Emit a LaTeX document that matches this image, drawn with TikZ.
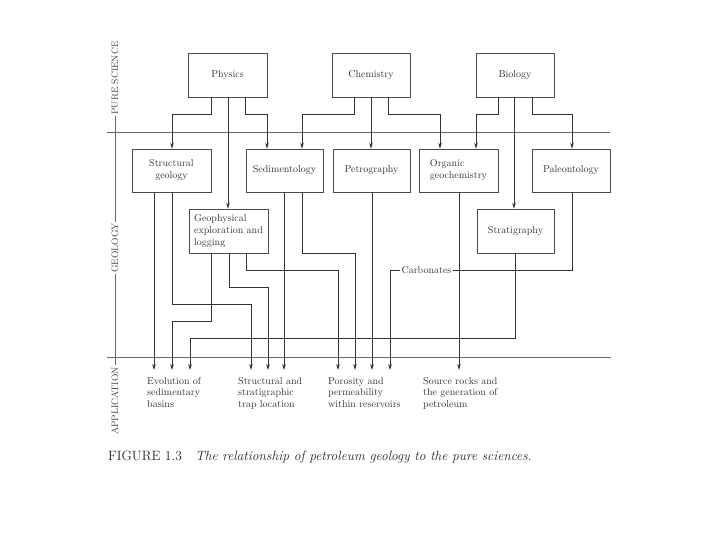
\documentclass[tikz,border=0pt]{standalone}
\usetikzlibrary{arrows.meta}
\begin{document}
\begin{tikzpicture}[x=1pt,y=-1pt,
  box/.style={draw=black!70, line width=0.6pt, minimum height=44pt, inner sep=2pt,
    font=\fontsize{10}{12}\selectfont, text=black!80},
  ln/.style={draw=black!80, line width=0.8pt},
  arr/.style={ln, -{Stealth[length=6pt,width=3.6pt]}},
  lab/.style={font=\fontsize{10}{11.5}\selectfont, align=left, anchor=north west,
    inner sep=0pt, text=black!80},
  side/.style={rotate=90, font=\fontsize{9.3}{10}\selectfont, inner sep=1.5pt, text=black!75},
  rule/.style={draw=black!60, line width=0.6pt}
]
\useasboundingbox[fill=white] (0,0) rectangle (720,540);

% pure science
\node[box, minimum width=79pt] (phys) at (227.5,75) {Physics};
\node[box, minimum width=78pt] (chem) at (371,75) {Chemistry};
\node[box, minimum width=78pt] (bio) at (515,75) {Biology};

% geology
\node[box, minimum width=79pt, minimum height=43pt, align=center] (sg) at (171.5,170.5) {Structural\\geology};
\node[box, minimum width=77pt, minimum height=43pt] (sed) at (284.5,170.5) {Sedimentology};
\node[box, minimum width=77pt, minimum height=43pt] (pet) at (371.5,170.5) {Petrography};
\node[box, minimum width=79pt, minimum height=43pt, align=left] (org) at (458.5,170.5) {Organic\\geochemistry};
\node[box, minimum width=78pt, minimum height=43pt] (pal) at (571,170.5) {Paleontology};
\node[box, minimum width=79pt, align=left] (geo) at (228.5,231) {Geophysical\\exploration and\\logging};
\node[box, minimum width=77pt] (strat) at (515.5,231) {Stratigraphy};

% rules and side labels
\draw[rule] (107,132) -- (610,132);
\draw[rule] (107,357) -- (611,357);
\node[side] (ps) at (115,78) {PURE SCIENCE};
\node[side] (gl) at (115,248) {GEOLOGY};
\node[side] (ap) at (115,401) {APPLICATION};
\draw[rule] (ps.west) -- (gl.east);
\draw[rule] (gl.west) -- (ap.east);

% application labels
\node[lab] (l1) at (147,377) {Evolution of\\sedimentary\\basins};
\node[lab] (l2) at (238,377) {Structural and\\stratigraphic\\trap location};
\node[lab] (l3) at (328,377) {Porosity and\\permeability\\within reservoirs};
\node[lab] (l4) at (423,377) {Source rocks and\\the generation of\\petroleum};

% arrow ends
\coordinate (e1) at (154,370);
\coordinate (e2) at (172,370);
\coordinate (e3) at (190,370);
\coordinate (e4) at (251,370);
\coordinate (e5) at (268,370);
\coordinate (e6) at (284,370);
\coordinate (e7) at (338,370);
\coordinate (e8) at (355,370);
\coordinate (e9) at (372,370);
\coordinate (e10) at (390,370);
\coordinate (e11) at (459,370);

% pure science -> geology
\draw[arr] (phys.south -| 211,0) |- (172,114) -- (sg.north -| 172,0);
\draw[arr] (phys.south -| 228,0) -- (geo.north -| 228,0);
\draw[arr] (phys.south -| 245,0) |- (267,114) -- (sed.north -| 267,0);
\draw[arr] (chem.south -| 354,0) |- (302,114) -- (sed.north -| 302,0);
\draw[arr] (chem.south -| 371,0) -- (pet.north -| 371,0);
\draw[arr] (chem.south -| 388,0) |- (440,114) -- (org.north -| 440,0);
\draw[arr] (bio.south -| 498,0) |- (476,114) -- (org.north -| 476,0);
\draw[arr] (bio.south -| 514,0) -- (strat.north -| 514,0);
\draw[arr] (bio.south -| 532,0) |- (572,114) -- (pal.north -| 572,0);

% geology -> application
\draw[arr] (sg.south -| 154,0) -- (e1);
\draw[arr] (sg.south -| 172,0) |- (251,304) -- (e4);
\draw[arr] (geo.south -| 211,0) |- (172,321) -- (e2);
\draw[arr] (geo.south -| 229,0) |- (268,287) -- (e5);
\draw[arr] (geo.south -| 246,0) |- (338,270) -- (e7);
\draw[arr] (sed.south -| 284,0) -- (e6);
\draw[arr] (sed.south -| 302,0) |- (355,253) -- (e8);
\draw[arr] (pet.south -| 372,0) -- (e9);
\draw[arr] (org.south -| 459,0) -- (e11);
\draw[arr] (strat.south -| 515,0) |- (190,338) -- (e3);
\node[font=\fontsize{10}{11.5}\selectfont, inner sep=1pt, text=black!80] (carb) at (426.5,270) {Carbonates};
\draw[ln] (pal.south -| 572,0) |- (carb.east);
\draw[arr] (carb.west) -| (e10);

% caption
\node[anchor=west, inner sep=0pt, text=black!85, font=\fontsize{13.5}{15}\selectfont] (cap) at (108,457)
  {FIGURE 1.3\quad\textit{The relationship of petroleum geology to the pure sciences.}};
\end{tikzpicture}
\end{document}
